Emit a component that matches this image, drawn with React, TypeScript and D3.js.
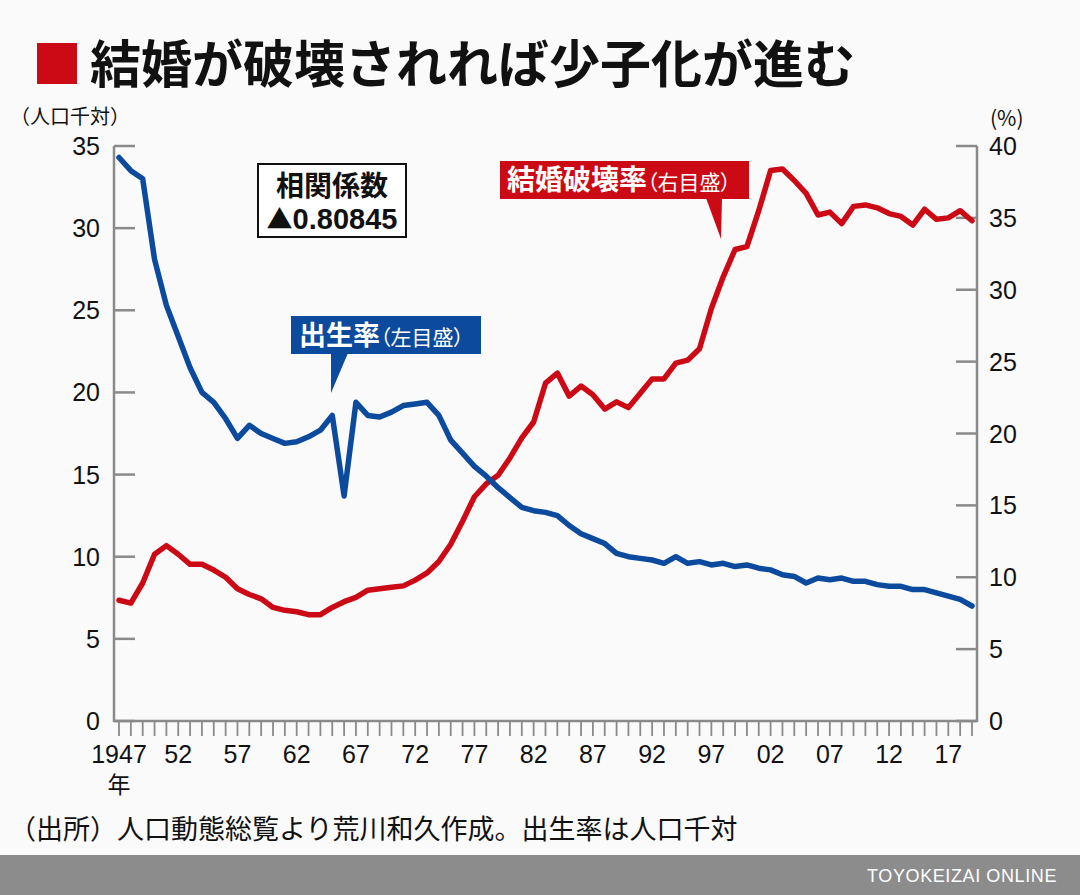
import React from 'react';
import * as d3 from 'd3';

const years = [
  1947, 1948, 1949, 1950, 1951, 1952, 1953, 1954, 1955, 1956,
  1957, 1958, 1959, 1960, 1961, 1962, 1963, 1964, 1965, 1966,
  1967, 1968, 1969, 1970, 1971, 1972, 1973, 1974, 1975, 1976,
  1977, 1978, 1979, 1980, 1981, 1982, 1983, 1984, 1985, 1986,
  1987, 1988, 1989, 1990, 1991, 1992, 1993, 1994, 1995, 1996,
  1997, 1998, 1999, 2000, 2001, 2002, 2003, 2004, 2005, 2006,
  2007, 2008, 2009, 2010, 2011, 2012, 2013, 2014, 2015, 2016,
  2017, 2018, 2019,
];

// 出生率 (人口千対, left axis)
const birthRate = [
  34.3, 33.5, 33.0, 28.1, 25.3, 23.4, 21.5, 20.0, 19.4, 18.4,
  17.2, 18.0, 17.5, 17.2, 16.9, 17.0, 17.3, 17.7, 18.6, 13.7,
  19.4, 18.6, 18.5, 18.8, 19.2, 19.3, 19.4, 18.6, 17.1, 16.3,
  15.5, 14.9, 14.2, 13.6, 13.0, 12.8, 12.7, 12.5, 11.9, 11.4,
  11.1, 10.8, 10.2, 10.0, 9.9, 9.8, 9.6, 10.0, 9.6, 9.7,
  9.5, 9.6, 9.4, 9.5, 9.3, 9.2, 8.9, 8.8, 8.4, 8.7,
  8.6, 8.7, 8.5, 8.5, 8.3, 8.2, 8.2, 8.0, 8.0, 7.8,
  7.6, 7.4, 7.0,
];

// 結婚破壊率 (%, right axis)
const breakRate = [
  8.4, 8.2, 9.6, 11.6, 12.2, 11.6, 10.9, 10.9, 10.5, 10.0,
  9.2, 8.8, 8.5, 7.9, 7.7, 7.6, 7.4, 7.4, 7.9, 8.3,
  8.6, 9.1, 9.2, 9.3, 9.4, 9.8, 10.3, 11.1, 12.3, 13.9,
  15.6, 16.5, 17.1, 18.3, 19.7, 20.8, 23.5, 24.2, 22.6, 23.3,
  22.7, 21.7, 22.2, 21.8, 22.8, 23.8, 23.8, 24.9, 25.1, 25.9,
  28.7, 30.9, 32.8, 33.0, 35.5, 38.3, 38.4, 37.6, 36.7, 35.2,
  35.4, 34.6, 35.8, 35.9, 35.7, 35.3, 35.1, 34.5, 35.6, 34.9,
  35.0, 35.5, 34.8,
];

const leftTicks = [0, 5, 10, 15, 20, 25, 30, 35];
const rightTicks = [0, 5, 10, 15, 20, 25, 30, 35, 40];
const xLabelYears = [1947, 1952, 1957, 1962, 1967, 1972, 1977, 1982, 1987, 1992, 1997, 2002, 2007, 2012, 2017];
const xLabelTexts = ['1947', '52', '57', '62', '67', '72', '77', '82', '87', '92', '97', '02', '07', '12', '17'];

const TITLE = '結婚が破壊されれば少子化が進む';
const SOURCE = '（出所）人口動態総覧より荒川和久作成。出生率は人口千対';

const BLUE = '#0b4a9c';
const RED = '#cc0a16';
const AXIS = '#8a8a8a';
const JP = '"Noto Sans CJK JP", "Noto Sans", sans-serif';
const NUM = '"Liberation Sans", Arial, sans-serif';

export default function App() {
  const x = d3.scaleLinear().domain([1947, 2019]).range([119, 972]);
  const yL = d3.scaleLinear().domain([0, 35]).range([721, 146]);
  const yR = d3.scaleLinear().domain([0, 40]).range([721, 146]);
  const axL = 114;
  const axR = 977;
  const axB = 721;

  const lineBirth = d3
    .line<number>()
    .x((_, i) => x(years[i]))
    .y((d) => yL(d));
  const lineBreak = d3
    .line<number>()
    .x((_, i) => x(years[i]))
    .y((d) => yR(d));

  return (
    <svg
      width={1080}
      height={895}
      style={{ position: 'absolute', left: 0, top: 0, background: '#fafafa' }}
    >
      <rect x={0} y={0} width={1080} height={895} fill="#fafafa" />
      {/* Title */}
      <rect x={37} y={43} width={40} height={41} fill={RED} />
      <text x={90} y={83} fontFamily={JP} fontWeight={700} fontSize={51} fill="#111">
        {TITLE}
      </text>

      {/* unit labels */}
      <text x={10} y={124} fontFamily={JP} fontSize={20} fill="#111">
        （人口千対）
      </text>
      <text x={990} y={126} fontFamily={JP} fontSize={21} fill="#111">
        (%)
      </text>

      {/* axes */}
      <g stroke={AXIS} strokeWidth={2.5} fill="none">
        <line x1={axL} y1={yL(35)} x2={axL} y2={axB + 1} />
        <line x1={axR} y1={yR(40)} x2={axR} y2={axB + 1} />
        <line x1={axL} y1={axB} x2={axR} y2={axB} />
        {leftTicks.map((t) => (
          <line key={'lt' + t} x1={axL} x2={axL + 21} y1={yL(t)} y2={yL(t)} />
        ))}
        {rightTicks.map((t) => (
          <line key={'rt' + t} x1={axR} x2={axR - 21} y1={yR(t)} y2={yR(t)} />
        ))}
        {years.map((yr) => (
          <line key={'xt' + yr} x1={x(yr)} x2={x(yr)} y1={axB} y2={axB + 15} strokeWidth={1.8} />
        ))}
      </g>

      {/* tick labels */}
      {leftTicks.map((t) => (
        <text key={'ll' + t} x={100} y={yL(t) + 9} textAnchor="end" fontFamily={NUM} fontSize={25} fill="#111">
          {t}
        </text>
      ))}
      {rightTicks.map((t) => (
        <text key={'rl' + t} x={989} y={yR(t) + 9} textAnchor="start" fontFamily={NUM} fontSize={25} fill="#111">
          {t}
        </text>
      ))}
      {xLabelYears.map((yr, i) => (
        <text key={'xl' + yr} x={x(yr)} y={763} textAnchor="middle" fontFamily={NUM} fontSize={25} fill="#111">
          {xLabelTexts[i]}
        </text>
      ))}
      <text x={x(1947)} y={793} textAnchor="middle" fontFamily={JP} fontSize={23} fill="#111">
        年
      </text>

      {/* lines */}
      <path d={lineBreak(breakRate) || ''} fill="none" stroke={RED} strokeWidth={5.5} strokeLinejoin="round" strokeLinecap="round" />
      <path d={lineBirth(birthRate) || ''} fill="none" stroke={BLUE} strokeWidth={5.5} strokeLinejoin="round" strokeLinecap="round" />

      {/* correlation box */}
      <rect x={258} y={164} width={148} height={73} fill="#fff" stroke="#111" strokeWidth={2} />
      <text x={332} y={196} textAnchor="middle" fontFamily={JP} fontWeight={700} fontSize={28} fill="#111">
        相関係数
      </text>
      <text x={332} y={229} textAnchor="middle" fontWeight={700} fontSize={29} fill="#111">
        <tspan fontFamily={JP} fontSize={26}>▲</tspan>
        <tspan fontFamily={NUM}>0.80845</tspan>
      </text>

      {/* blue label */}
      <rect x={291} y={316} width={190} height={38} fill={BLUE} />
      <path d="M331,353 L348,353 L331,393 Z" fill={BLUE} />
      <text x={299} y={345} fontFamily={JP} fill="#fff" style={{ fontFeatureSettings: '"palt"' }}>
        <tspan fontSize={27} fontWeight={700}>出生率</tspan>
        <tspan fontSize={21}>（左目盛）</tspan>
      </text>

      {/* red label */}
      <rect x={500} y={161} width={249} height={38} fill={RED} />
      <path d="M706,198 L722,198 L721,239 Z" fill={RED} />
      <text x={507} y={190} fontFamily={JP} fill="#fff" style={{ fontFeatureSettings: '"palt"' }}>
        <tspan fontSize={28} fontWeight={700}>結婚破壊率</tspan>
        <tspan fontSize={21}>（右目盛）</tspan>
      </text>

      {/* source */}
      <text x={9} y={839} fontFamily={JP} fontSize={27} fill="#111">
        {SOURCE}
      </text>

      {/* footer bar */}
      <rect x={0} y={855} width={1080} height={40} fill="#8c8c8c" />
      <text x={1057} y={882} textAnchor="end" fontFamily={NUM} fontSize={18} fill="#fff" letterSpacing={0.6}>
        TOYOKEIZAI ONLINE
      </text>
    </svg>
  );
}
